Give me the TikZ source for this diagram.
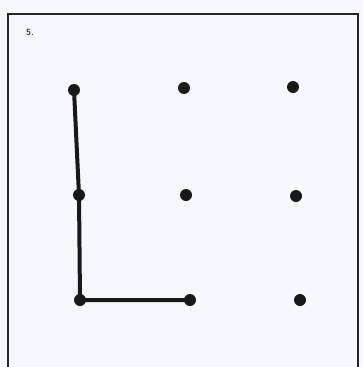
\documentclass[tikz,border=0pt]{standalone}
\usepackage{tikz}
\usetikzlibrary{positioning,calc}

\tikzset{
  dot/.style={circle,fill=black!90,inner sep=0pt,minimum size=12pt},
  seg/.style={line width=4pt,black!90,line cap=round}
}

\begin{document}
\begin{tikzpicture}[x=1pt,y=-1pt]
      % page frame, open at the bottom where the scan is cut off
      \useasboundingbox (0,0) rectangle (363,367);
      \fill[white!97!blue] (0,0) rectangle (363,367);
      \draw[line width=2.6pt,black!85] (8,367) -- (8,14) -- (358,14) -- (358,367);
      \node[font=\fontsize{9}{10}\selectfont\sffamily\bfseries,text=black!75] (num) at (30,32) {5.};
      % the nine dots
      \node[dot] (a1) at (74,90) {};
      \node[dot] (a2) at (184,88) {};
      \node[dot] (a3) at (293,87) {};
      \node[dot] (b1) at (79,195) {};
      \node[dot] (b2) at (186,195) {};
      \node[dot] (b3) at (296,196) {};
      \node[dot] (c1) at (80,300) {};
      \node[dot] (c2) at (190,300) {};
      \node[dot] (c3) at (300,300) {};
      % the L that has been drawn
      \draw[seg] (a1.center) -- (b1.center) -- (c1.center) -- (c2.center);
    \end{tikzpicture}
\end{document}
